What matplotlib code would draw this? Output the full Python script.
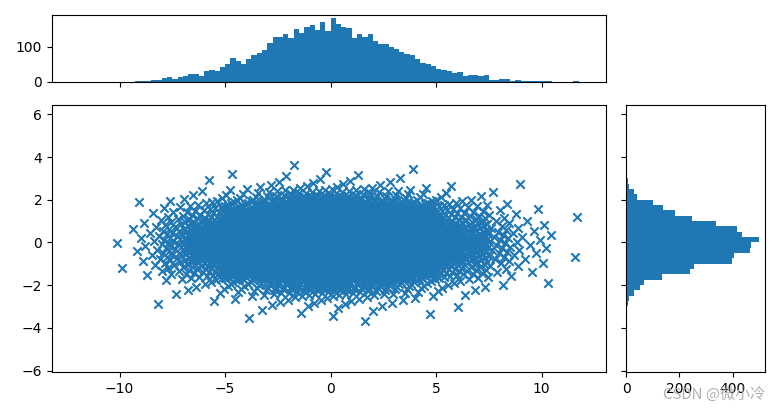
import numpy as np
import matplotlib
matplotlib.use('Agg')
import matplotlib.pyplot as plt

# histogram readings from the picture, bin width 0.25
binw = 0.25
x_first_edge = -10.25
x_counts = [1, 1, 0, 1, 2, 4, 2, 5, 5, 11, 14, 8, 14, 17, 23, 23, 17, 31, 34, 31,
            43, 51, 69, 60, 51, 66, 77, 83, 91, 112, 129, 127, 135, 124, 149, 138,
            155, 161, 147, 169, 144, 181, 164, 155, 152, 124, 135, 129, 135, 115,
            107, 107, 98, 94, 86, 80, 77, 66, 54, 51, 46, 37, 34, 31, 26, 29, 17,
            20, 20, 17, 20, 6, 6, 9, 9, 3, 6, 2, 2, 3, 2, 3, 2, 0, 0, 0, 0, 2]
y_first_edge = -3.75
y_counts = [2, 3, 4, 9, 12, 30, 52, 67, 135, 240, 254, 396, 403, 463, 467, 497,
            434, 415, 336, 248, 184, 139, 101, 41, 30, 12, 6, 4, 2, 1]

x_lim = (-13.2, 13.05)
y_lim = (-6.07, 6.44)


def spread(first_edge, counts):
    # place each bin's points evenly inside the bin
    vals = []
    for i, c in enumerate(counts):
        left = first_edge + i * binw
        for k in range(c):
            vals.append(left + binw * (k + 0.5) / c)
    return np.array(vals)


x = spread(x_first_edge, x_counts)
y = spread(y_first_edge, y_counts)
assert len(x) == len(y), (len(x), len(y))
n = len(x)
# interleave the y values across the sorted x values (golden step, start at the middle)
step = int(n * 0.618)
while np.gcd(step, n) != 1:
    step += 1
y = y[(np.arange(n) * step + n // 2) % n]

fig = plt.figure(figsize=(7.8, 4.11), dpi=100)
ax = fig.add_axes([0.0667, 0.0949, 0.7103, 0.6496])
ax_top = fig.add_axes([0.0667, 0.8005, 0.7103, 0.1630], sharex=ax)
ax_right = fig.add_axes([0.8026, 0.0949, 0.1787, 0.6496], sharey=ax)

ax.scatter(x, y, marker='x')

xbins = x_first_edge + binw * np.arange(len(x_counts) + 1)
ybins = y_first_edge + binw * np.arange(len(y_counts) + 1)
ax_top.hist(x, bins=xbins)
ax_right.hist(y, bins=ybins, orientation='horizontal')
ax_top.tick_params(axis='x', labelbottom=False)
ax_right.tick_params(axis='y', labelleft=False)
ax_top.set_yticks([0, 100])
ax_right.set_xticks([0, 200, 400])
ax.set_yticks([-6, -4, -2, 0, 2, 4, 6])
ax.set_xlim(*x_lim)
ax.set_ylim(*y_lim)

fig.text(0.981, 0.041, 'CSDN @微小冷', ha='right', va='center', fontsize=10.8,
         color='#b0b0b0', family=['Noto Sans CJK SC', 'DejaVu Sans'])

fig.savefig('out.png', dpi=100)
